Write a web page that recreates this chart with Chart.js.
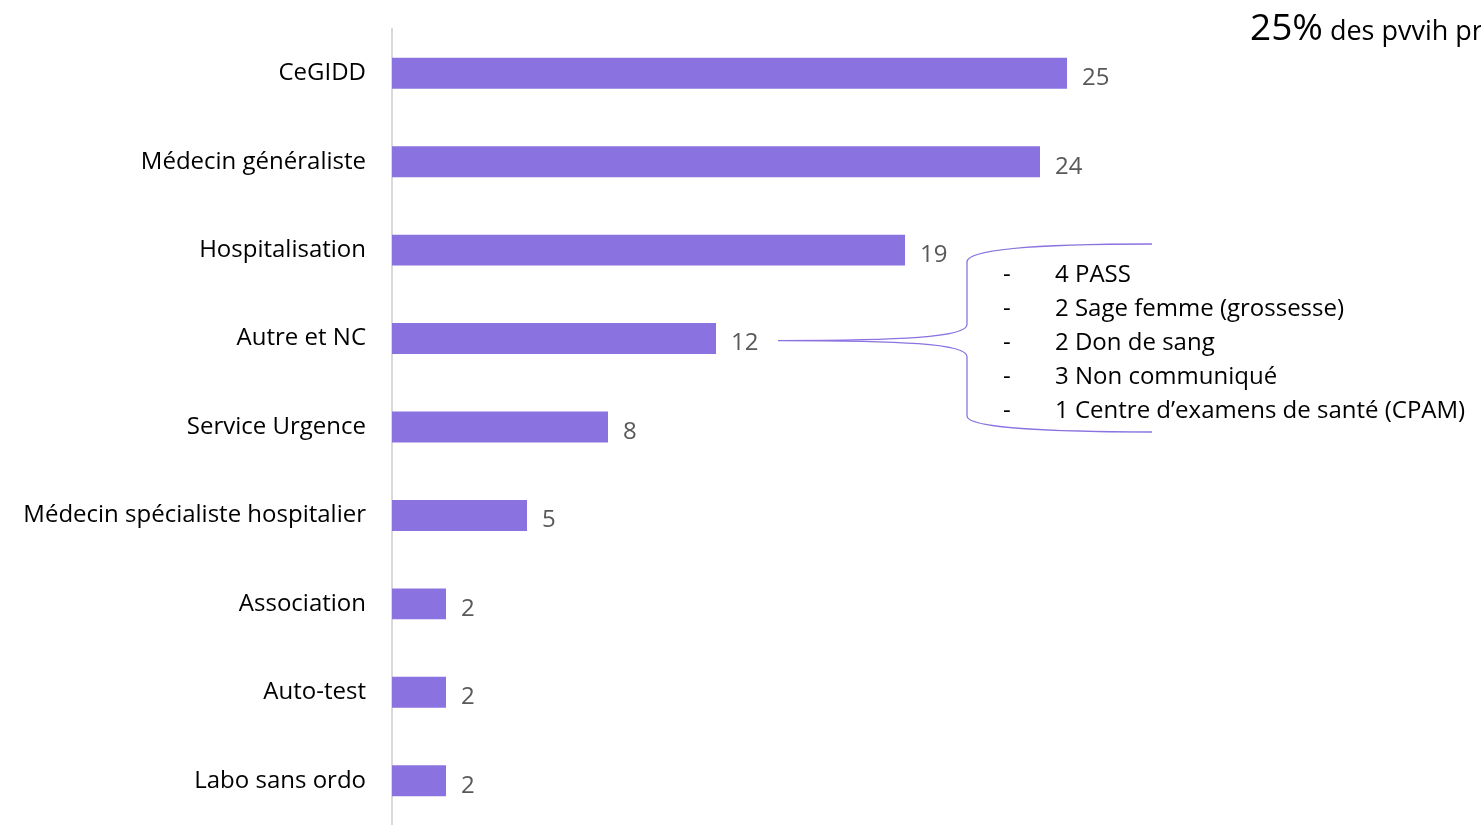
<!DOCTYPE html>
<html>
<head>
<meta charset="utf-8">
<script src="https://cdn.jsdelivr.net/npm/chart.js@4"></script>
<style>
  html, body { margin: 0; padding: 0; background: #fff; overflow: hidden; }
  canvas { display: block; }
</style>
</head>
<body>
<canvas id="chart1" width="1481" height="825"></canvas>
<script>
  const categories = ['CeGIDD', 'Médecin généraliste', 'Hospitalisation', 'Autre et NC',
    'Service Urgence', 'Médecin spécialiste hospitalier', 'Association', 'Auto-test', 'Labo sans ordo'];
  const values = [25, 24, 19, 12, 8, 5, 2, 2, 2];
  const detailLines = ['4 PASS', '2 Sage femme (grossesse)', '2 Don de sang',
    '3 Non communiqué', '1 Centre d\u2019examens de santé (CPAM)'];
  const FONT = "'Open Sans', 'Noto Sans', sans-serif";

  // value labels + brace annotation + header text
  const extras = {
    id: 'extras',
    afterDatasetsDraw(chart) {
      const c = chart.ctx;
      const meta = chart.getDatasetMeta(0);
      c.save();
      c.fillStyle = '#595959';
      c.font = '24px ' + FONT;
      c.textBaseline = 'middle';
      meta.data.forEach((bar, i) => {
        c.fillText(values[i], bar.x + 15, bar.y + 5);
      });

      // brace for "Autre et NC"
      const y0 = meta.data[3].y + 2;
      c.strokeStyle = '#8a73e0';
      c.lineWidth = 1.3;
      c.beginPath();
      c.moveTo(778, y0);
      c.bezierCurveTo(900, y0, 967, y0 - 3, 967, y0 - 16);
      c.lineTo(967, 262);
      c.bezierCurveTo(967, 248, 1050, 244, 1152, 244);
      c.moveTo(778, y0);
      c.bezierCurveTo(900, y0, 967, y0 + 3, 967, y0 + 16);
      c.lineTo(967, 416);
      c.bezierCurveTo(967, 428, 1050, 432, 1152, 432);
      c.stroke();

      c.fillStyle = '#000';
      c.font = '24px ' + FONT;
      detailLines.forEach((t, i) => {
        const y = 275 + i * 34;
        c.fillText('-', 1003, y);
        c.fillText(t, 1055, y);
      });

      c.font = '37px ' + FONT;
      c.textBaseline = 'alphabetic';
      c.fillText('25%', 1250, 40);
      const w = c.measureText('25%').width;
      c.font = '27px ' + FONT;
      c.fillText(' des pvvih pris en charge', 1250 + w, 40);
      c.restore();
    }
  };

  const ctx1 = document.getElementById('chart1').getContext('2d');
  const chart1 = new Chart(ctx1, {
    type: 'bar',
    data: {
      labels: categories,
      datasets: [{
        data: values,
        backgroundColor: '#8a73e0',
        barPercentage: 0.35,
        categoryPercentage: 1
      }]
    },
    options: {
      indexAxis: 'y',
      responsive: false,
      animation: false,
      layout: { padding: { top: 29, right: 9, bottom: -3, left: 0 } },
      plugins: { legend: { display: false }, tooltip: { enabled: false } },
      scales: {
        x: { display: false, min: 0, max: 40 },
        y: {
          grid: { display: false },
          border: { display: true, color: '#d9d9d9', width: 2 },
          ticks: { color: '#000', font: { family: FONT, size: 24 }, padding: 18 },
          afterFit(s) { s.width = 392; s.paddingTop = 0; s.paddingBottom = 0; }
        }
      }
    },
    plugins: [extras]
  });
</script>
</body>
</html>
